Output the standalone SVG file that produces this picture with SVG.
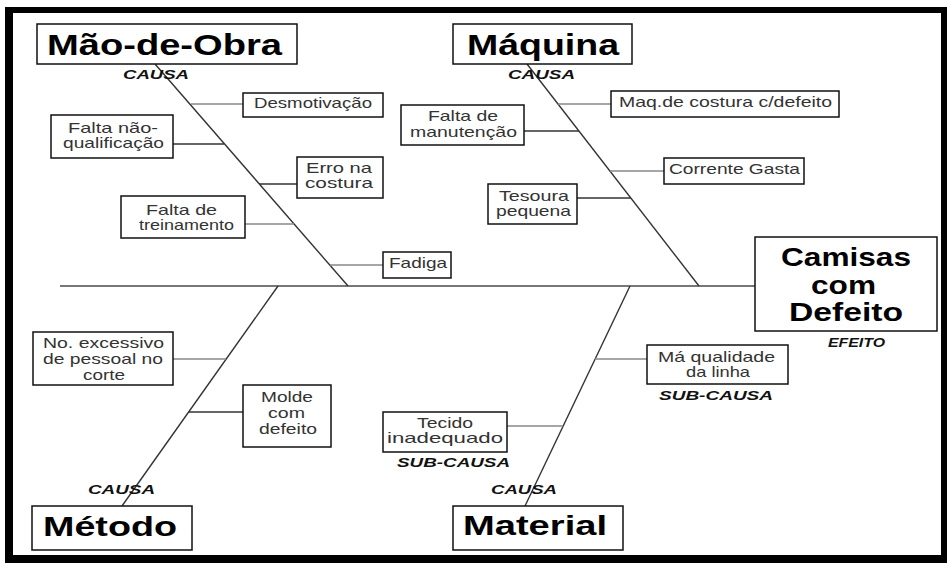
<svg xmlns="http://www.w3.org/2000/svg" width="947" height="563" viewBox="0 0 947 563">
<style>
text{font-family:"Liberation Sans",Arial,sans-serif;}
.box{fill:#fff;stroke:#111;stroke-width:1.5;}
.big{font-weight:bold;fill:#000;}
.sm{font-size:14.5px;fill:#333;}
.tag{font-size:13px;font-weight:bold;font-style:italic;fill:#111;}
.diag{stroke:#333;stroke-width:1.4;fill:none;}
.cl{stroke:#888;stroke-width:1.6;fill:none;}
.cd{stroke:#333;stroke-width:1.4;fill:none;}
.spine{stroke:#777;stroke-width:2;fill:none;}
</style>
<rect x="0" y="0" width="947" height="563" fill="#fff"/>
<rect x="5" y="7" width="942" height="556" fill="#000"/>
<rect x="13" y="13" width="928" height="542" fill="#fff"/>
<g id="connectors">
<line class="spine" x1="60" y1="286" x2="755" y2="286"/>
<line class="diag" x1="155" y1="64" x2="348" y2="286"/>
<line class="diag" x1="527" y1="64" x2="699" y2="286"/>
<line class="diag" x1="278" y1="286" x2="122" y2="506"/>
<line class="diag" x1="630" y1="286" x2="525" y2="506"/>
<line class="cl" x1="191" y1="104" x2="243" y2="104"/>
<line class="cd" x1="173" y1="144" x2="224" y2="144"/>
<line class="cd" x1="259" y1="184" x2="297" y2="184"/>
<line class="cl" x1="245" y1="224" x2="294" y2="224"/>
<line class="cl" x1="330" y1="265" x2="383" y2="265"/>
<line class="cl" x1="558" y1="104" x2="611" y2="104"/>
<line class="cd" x1="524" y1="131" x2="579" y2="131"/>
<line class="cl" x1="610" y1="171" x2="664" y2="171"/>
<line class="cd" x1="577" y1="198" x2="631" y2="198"/>
<line class="cl" x1="173" y1="359" x2="226" y2="359"/>
<line class="cd" x1="189" y1="412" x2="243" y2="412"/>
<line class="cl" x1="595" y1="359" x2="647" y2="359"/>
<line class="cl" x1="507" y1="426" x2="563" y2="426"/>
</g>
<g id="mao-de-obra">
<rect class="box" x="37" y="24" width="260" height="40"/>
<text class="big" x="47" y="55" font-size="30" textLength="235" lengthAdjust="spacingAndGlyphs">Mão-de-Obra</text>
<text class="tag" x="123" y="79" textLength="66" lengthAdjust="spacingAndGlyphs">CAUSA</text>
</g>
<g id="maquina">
<rect class="box" x="453" y="24" width="179" height="40"/>
<text class="big" x="467" y="55" font-size="30" textLength="152" lengthAdjust="spacingAndGlyphs">Máquina</text>
<text class="tag" x="508" y="79" textLength="67" lengthAdjust="spacingAndGlyphs">CAUSA</text>
</g>
<g id="metodo">
<rect class="box" x="32" y="506" width="160" height="44"/>
<text class="big" x="43" y="536" font-size="28" textLength="134" lengthAdjust="spacingAndGlyphs">Método</text>
<text class="tag" x="88" y="494" textLength="67" lengthAdjust="spacingAndGlyphs">CAUSA</text>
</g>
<g id="material">
<rect class="box" x="453" y="506" width="170" height="44"/>
<text class="big" x="463" y="535" font-size="28" textLength="144" lengthAdjust="spacingAndGlyphs">Material</text>
<text class="tag" x="491" y="494" textLength="66" lengthAdjust="spacingAndGlyphs">CAUSA</text>
</g>
<g id="efeito">
<rect class="box" x="755" y="237" width="182" height="94"/>
<text class="big" x="781" y="266" font-size="25" textLength="130" lengthAdjust="spacingAndGlyphs">Camisas</text>
<text class="big" x="811" y="294" font-size="25" textLength="65" lengthAdjust="spacingAndGlyphs">com</text>
<text class="big" x="789" y="321" font-size="25" textLength="114" lengthAdjust="spacingAndGlyphs">Defeito</text>
<text class="tag" x="828" y="347" textLength="57" lengthAdjust="spacingAndGlyphs">EFEITO</text>
</g>
<g id="desmotivacao">
<rect class="box" x="243" y="93" width="140" height="24"/>
<text class="sm" x="254" y="108" textLength="118" lengthAdjust="spacingAndGlyphs">Desmotivação</text>
</g>
<g id="falta-nao-qualificacao">
<rect class="box" x="51" y="115" width="122" height="43"/>
<text class="sm" x="68" y="133" textLength="90" lengthAdjust="spacingAndGlyphs">Falta não-</text>
<text class="sm" x="63" y="148" textLength="101" lengthAdjust="spacingAndGlyphs">qualificação</text>
</g>
<g id="erro-na-costura">
<rect class="box" x="297" y="157" width="86" height="41"/>
<text class="sm" x="306" y="173" textLength="66" lengthAdjust="spacingAndGlyphs">Erro na</text>
<text class="sm" x="305" y="188" textLength="68" lengthAdjust="spacingAndGlyphs">costura</text>
</g>
<g id="falta-de-treinamento">
<rect class="box" x="121" y="196" width="124" height="42"/>
<text class="sm" x="146" y="215" textLength="71" lengthAdjust="spacingAndGlyphs">Falta de</text>
<text class="sm" x="139" y="230" textLength="95" lengthAdjust="spacingAndGlyphs">treinamento</text>
</g>
<g id="fadiga">
<rect class="box" x="383" y="252" width="68" height="26"/>
<text class="sm" x="389" y="268" textLength="58" lengthAdjust="spacingAndGlyphs">Fadiga</text>
</g>
<g id="maq-costura">
<rect class="box" x="611" y="91" width="228" height="26"/>
<text class="sm" x="619" y="107" textLength="213" lengthAdjust="spacingAndGlyphs">Maq.de costura c/defeito</text>
</g>
<g id="falta-de-manutencao">
<rect class="box" x="401" y="105" width="123" height="40"/>
<text class="sm" x="428" y="121" textLength="70" lengthAdjust="spacingAndGlyphs">Falta de</text>
<text class="sm" x="410" y="137" textLength="107" lengthAdjust="spacingAndGlyphs">manutenção</text>
</g>
<g id="corrente-gasta">
<rect class="box" x="664" y="158" width="140" height="26"/>
<text class="sm" x="669" y="174" textLength="131" lengthAdjust="spacingAndGlyphs">Corrente Gasta</text>
</g>
<g id="tesoura-pequena">
<rect class="box" x="488" y="184" width="89" height="40"/>
<text class="sm" x="499" y="201" textLength="70" lengthAdjust="spacingAndGlyphs">Tesoura</text>
<text class="sm" x="496" y="216" textLength="75" lengthAdjust="spacingAndGlyphs">pequena</text>
</g>
<g id="no-excessivo">
<rect class="box" x="33" y="332" width="140" height="53"/>
<text class="sm" x="43" y="348" textLength="121" lengthAdjust="spacingAndGlyphs">No. excessivo</text>
<text class="sm" x="43" y="364" textLength="120" lengthAdjust="spacingAndGlyphs">de pessoal no</text>
<text class="sm" x="83" y="380" textLength="42" lengthAdjust="spacingAndGlyphs">corte</text>
</g>
<g id="molde-com-defeito">
<rect class="box" x="243" y="385" width="88" height="62"/>
<text class="sm" x="261" y="402" textLength="52" lengthAdjust="spacingAndGlyphs">Molde</text>
<text class="sm" x="268" y="418" textLength="37" lengthAdjust="spacingAndGlyphs">com</text>
<text class="sm" x="259" y="434" textLength="58" lengthAdjust="spacingAndGlyphs">defeito</text>
</g>
<g id="ma-qualidade">
<rect class="box" x="647" y="345" width="141" height="39"/>
<text class="sm" x="658" y="362" textLength="117" lengthAdjust="spacingAndGlyphs">Má qualidade</text>
<text class="sm" x="686" y="377" textLength="64" lengthAdjust="spacingAndGlyphs">da linha</text>
<text class="tag" x="659" y="400" font-size="14" textLength="114" lengthAdjust="spacingAndGlyphs">SUB-CAUSA</text>
</g>
<g id="tecido-inadequado">
<rect class="box" x="383" y="412" width="124" height="40"/>
<text class="sm" x="417" y="428" textLength="56" lengthAdjust="spacingAndGlyphs">Tecido</text>
<text class="sm" x="387" y="443" textLength="116" lengthAdjust="spacingAndGlyphs">inadequado</text>
<text class="tag" x="397" y="467" font-size="14" textLength="113" lengthAdjust="spacingAndGlyphs">SUB-CAUSA</text>
</g>
</svg>
